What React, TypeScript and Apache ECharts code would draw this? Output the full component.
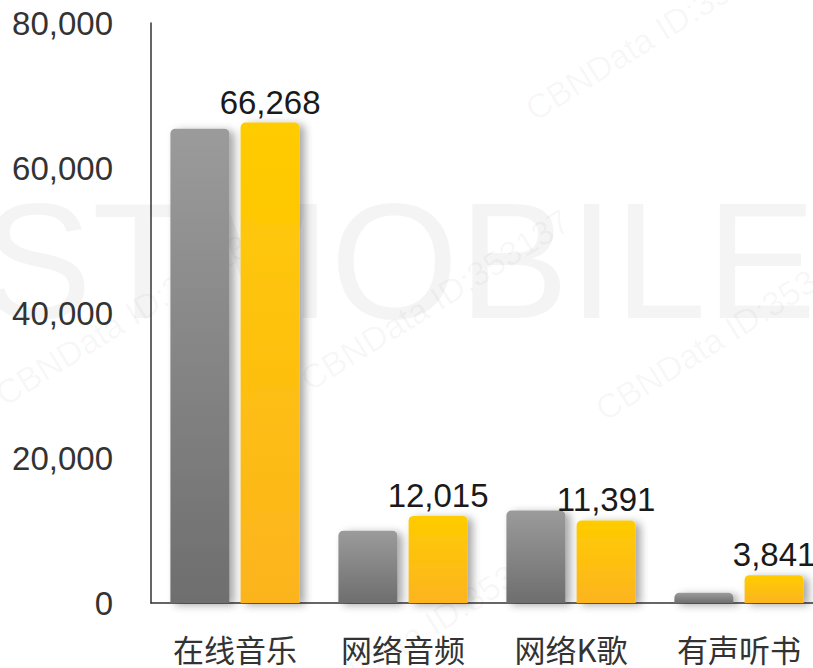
import React, { useEffect, useRef } from "react";
import * as echarts from "echarts";

const categories = ["在线音乐", "网络音频", "网络K歌", "有声听书"];
const grayValues = [65400, 9950, 12770, 1400];
const goldValues = [66268, 12015, 11391, 3841];
const yTicks = [0, 20000, 40000, 60000, 80000];

const numFont = "'Liberation Sans', Arial, sans-serif";
const cjkFont = "'Noto Sans CJK SC', 'Noto Sans', sans-serif";

export default function App() {
  const ref = useRef<HTMLDivElement>(null);
  useEffect(() => {
    if (!ref.current) return;
    const chart = echarts.init(ref.current, undefined, { renderer: "svg" });
    const wm = (x: number, y: number) => ({
      type: "text",
      x,
      y,
      rotation: (32 * Math.PI) / 180,
      z: -10,
      silent: true,
      style: {
        text: "CBNData ID:353137",
        font: "34px 'Liberation Sans', Arial, sans-serif",
        fill: "rgba(0,0,0,0.04)",
        textAlign: "center",
        textVerticalAlign: "middle",
      },
    });
    chart.setOption({
      animation: false,
      backgroundColor: "#ffffff",
      graphic: [
        {
          type: "text",
          left: -18,
          top: 178,
          z: -20,
          silent: true,
          style: {
            text: "STMOBILE",
            font: "165px 'Liberation Sans', Arial, sans-serif",
            fill: "rgba(0,0,0,0.045)",
          },
        },
        wm(130, 315),
        wm(435, 300),
        wm(730, 330),
        wm(660, 30),
        wm(430, 625),
      ],
      grid: {
        left: 151,
        top: 23,
        width: 672,
        height: 580,
        containLabel: false,
        outerBoundsMode: "none",
      },
      xAxis: {
        type: "category",
        data: categories,
        axisLine: { lineStyle: { color: "#333333", width: 1.5 } },
        axisTick: { show: false },
        axisLabel: {
          color: "#333333",
          fontSize: 31,
          fontFamily: cjkFont,
          margin: 30,
        },
      },
      yAxis: {
        type: "value",
        min: 0,
        max: 80000,
        interval: 20000,
        axisLine: { show: true, lineStyle: { color: "#333333", width: 1.5 } },
        axisTick: { show: false },
        splitLine: { show: false },
        axisLabel: {
          color: "#333333",
          fontSize: 33,
          fontFamily: numFont,
          margin: 38,
          formatter: (v: number) =>
            yTicks.includes(v) ? v.toLocaleString("en-US") : "",
        },
      },
      series: [
        {
          name: "gray",
          type: "bar",
          data: grayValues,
          barWidth: 59,
          barGap: "19%",
          itemStyle: {
            borderRadius: [5, 5, 0, 0],
            color: new echarts.graphic.LinearGradient(0, 0, 0, 1, [
              { offset: 0, color: "#9b9b9b" },
              { offset: 1, color: "#6e6e6e" },
            ]),
            shadowColor: "rgba(0,0,0,0.35)",
            shadowBlur: 8,
            shadowOffsetX: 5,
            shadowOffsetY: 2,
          },
        },
        {
          name: "gold",
          type: "bar",
          data: goldValues,
          barWidth: 59,
          barGap: "19%",
          itemStyle: {
            borderRadius: [5, 5, 0, 0],
            color: new echarts.graphic.LinearGradient(0, 0, 0, 1, [
              { offset: 0, color: "#ffcc00" },
              { offset: 1, color: "#fcb41f" },
            ]),
            shadowColor: "rgba(0,0,0,0.35)",
            shadowBlur: 8,
            shadowOffsetX: 5,
            shadowOffsetY: 2,
          },
          label: {
            show: true,
            position: "top",
            distance: 4,
            color: "#1a1a1a",
            fontSize: 33,
            fontFamily: numFont,
            formatter: (p: any) => Number(p.value).toLocaleString("en-US"),
          },
        },
      ],
    });
    return () => chart.dispose();
  }, []);
  return (
    <div
      ref={ref}
      style={{ position: "fixed", left: 0, top: 0, width: 813, height: 668 }}
    />
  );
}
